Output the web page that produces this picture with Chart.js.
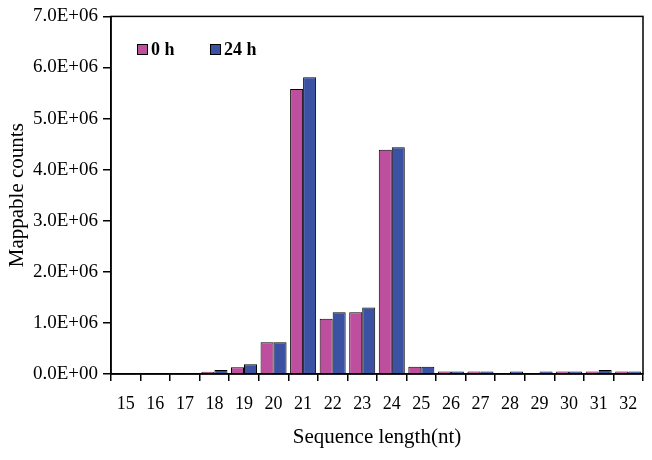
<!DOCTYPE html>
<html><head><meta charset="utf-8">
<script src="https://cdn.jsdelivr.net/npm/chart.js@4/dist/chart.umd.min.js"></script>
<style>html,body{margin:0;padding:0;background:#fff}#wrap{width:652px;height:460px}</style>
</head><body><div id="wrap"><canvas id="c"></canvas></div>
<script>
const categories = ['15','16','17','18','19','20','21','22','23','24','25','26','27','28','29','30','31','32'];
const series0h  = [0, 0, 10000, 45000, 130000, 620000, 5580000, 1080000, 1210000, 4390000, 140000, 50000, 50000, 20000, 20000, 50000, 50000, 50000];
const series24h = [0, 0, 20000, 80000, 190000, 620000, 5810000, 1210000, 1300000, 4440000, 140000, 50000, 50000, 50000, 50000, 50000, 80000, 50000];
const seriesNames = ['0 h', '24 h'];
const yTicks = [0, 1e6, 2e6, 3e6, 4e6, 5e6, 6e6, 7e6];

function fmtE(v){
  if (v === 0) return '0.0E+00';
  const e = Math.floor(Math.log10(Math.abs(v)));
  const m = v / Math.pow(10, e);
  return m.toFixed(1) + 'E' + (e >= 0 ? '+' : '-') + String(Math.abs(e)).padStart(2, '0');
}

const serif = "'Liberation Serif', 'Times New Roman', serif";

const frame = {
  id: 'frame',
  afterDraw(chart){
    const {ctx, chartArea:a} = chart;
    ctx.save();
    ctx.strokeStyle = '#000'; ctx.lineWidth = 1.5;
    ctx.strokeRect(a.left, a.top, a.right - a.left, a.bottom - a.top);
    ctx.font = "bold 18px " + serif;
    ctx.textBaseline = 'middle';
    const xs = [137, 210];
    chart.data.datasets.forEach((ds, i) => {
      const x = xs[i], y = 49;
      ctx.fillStyle = ds.backgroundColor;
      ctx.fillRect(x, y - 5, 11, 11);
      ctx.lineWidth = 1; ctx.strokeStyle = '#000';
      ctx.strokeRect(x + 0.5, y - 4.5, 10, 10);
      ctx.fillStyle = '#000';
      ctx.fillText(ds.label, x + 14, y + 1);
    });
    ctx.restore();
  }
};

new Chart(document.getElementById('c'), {
  type: 'bar',
  data: {
    labels: categories,
    datasets: [
      {label: seriesNames[0], data: series0h, backgroundColor: '#BE4E9E', borderColor: '#000', borderWidth: 1, borderSkipped: 'bottom', categoryPercentage: 0.88, barPercentage: 1.0},
      {label: seriesNames[1], data: series24h, backgroundColor: '#3B52A3', borderColor: '#000', borderWidth: 1, borderSkipped: 'bottom', categoryPercentage: 0.88, barPercentage: 1.0}
    ]
  },
  options: {
    responsive: true, maintainAspectRatio: false, animation: false,
    layout: {padding: {left: 5, right: 9, top: 13, bottom: 10}},
    plugins: {legend: {display: false}, tooltip: {enabled: false}},
    scales: {
      x: {
        grid: {offset: true, drawOnChartArea: false, drawTicks: true, tickLength: 7, color: '#000', lineWidth: 1.5},
        border: {display: true, color: '#000', width: 1.5},
        ticks: {color: '#000', font: {family: serif, size: 18}, padding: 12, maxRotation: 0, autoSkip: false},
        title: {display: true, text: 'Sequence length(nt)', color: '#000', font: {family: serif, size: 21}, padding: {top: 14, bottom: 0}},
        afterFit(s){ s.height = 76; }
      },
      y: {
        min: 0, max: 7e6,
        afterBuildTicks(s){ s.ticks = yTicks.map(v => ({value: v})); },
        grid: {drawOnChartArea: false, drawTicks: true, tickLength: 8, color: '#000', lineWidth: 1.5},
        border: {display: true, color: '#000', width: 1.5},
        ticks: {color: '#000', font: {family: serif, size: 19}, padding: 5, callback: v => fmtE(v)},
        title: {display: true, text: 'Mappable counts', color: '#000', font: {family: serif, size: 21}, padding: {top: 0, bottom: 2}},
        afterFit(s){ s.width = 106; }
      }
    }
  },
  plugins: [frame]
});
</script></body></html>
